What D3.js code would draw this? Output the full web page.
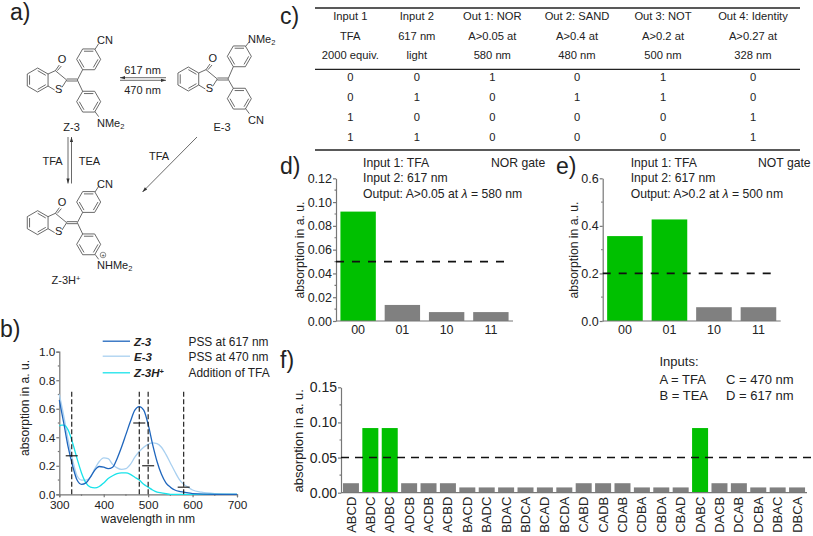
<!DOCTYPE html>
<html><head><meta charset="utf-8">
<script src="https://cdn.jsdelivr.net/npm/d3@7"></script>
<style>
html,body{margin:0;padding:0;background:#fff}
svg{display:block}
text{font-family:"Liberation Sans",Arial,sans-serif;fill:#222}
.axis path,.axis line{stroke:#777;stroke-width:1.2}
.axis text{font-family:"Liberation Sans",Arial,sans-serif;fill:#222;font-size:12.5px}
</style></head><body>
<svg id="c" width="813" height="536" xmlns="http://www.w3.org/2000/svg"></svg>
<script>
// ---------- data ----------
const wlZ = [300,310,320,330,340,350,360,370,380,390,400,410,420,430,440,450,460,470,480,490,500,510,520,530,540,550,560,570,580,600,650,700];
const absZ = [.66,.5,.33,.2,.1,.07,.08,.12,.17,.195,.19,.18,.19,.25,.33,.42,.51,.59,.615,.59,.49,.35,.23,.14,.08,.05,.03,.02,.015,.005,0,0];
const wlE = [300,310,320,330,340,350,360,370,380,390,400,410,420,430,440,450,460,470,480,490,500,510,520,530,540,550,560,570,580,590,600,620,650,700];
const absE = [.7,.55,.38,.24,.13,.1,.1,.12,.18,.23,.255,.25,.21,.185,.175,.18,.21,.26,.3,.33,.35,.36,.355,.33,.28,.22,.16,.105,.07,.05,.03,.015,.005,0];
const wlH = [300,305,310,320,330,340,350,360,370,380,390,400,410,420,430,440,450,460,470,480,490,500,510,520,530,550,700];
const absH = [.48,.485,.485,.45,.36,.25,.15,.08,.05,.045,.055,.08,.11,.13,.145,.15,.15,.14,.12,.1,.07,.05,.03,.015,.01,0,0];
const guideWl = [328,480,500,580];
const guideA = [.27,.5,.2,.05];
const gateCats = ["00","01","10","11"];
const norVals = [.092,.0135,.0075,.0075];
const norOn = [1,0,0,0];
const notVals = [.357,.427,.058,.058];
const notOn = [1,1,0,0];
const seqCats = ["ABCD","ABDC","ADBC","ADCB","ACDB","ACBD","BACD","BADC","BDAC","BDCA","BCAD","BCDA","CABD","CADB","CDAB","CDBA","CBDA","CBAD","DABC","DACB","DCAB","DCBA","DBAC","DBCA"];
const seqVals = [.0135,.092,.092,.0135,.0135,.0135,.0075,.0075,.0075,.0075,.0075,.0075,.0135,.0135,.0135,.0075,.0075,.0075,.092,.0135,.0135,.0075,.0075,.0075];
const tableRows = [
 ["Input 1","Input 2","Out 1: NOR","Out 2: SAND","Out 3: NOT","Out 4: Identity"],
 ["TFA","617 nm","A>0.05 at","A>0.4 at","A>0.2 at","A>0.27 at"],
 ["2000 equiv.","light","580 nm","480 nm","500 nm","328 nm"],
 ["0","0","1","0","1","0"],
 ["0","1","0","1","1","0"],
 ["1","0","0","0","0","1"],
 ["1","1","0","0","0","1"]];
// ---------- helpers ----------
const GREEN="#00c000",GREY="#808080";
const svg=d3.select("#c");
function txt(x,y,s,size,opt={}){
  const t=svg.append("text").attr("x",x).attr("y",y).attr("font-size",size).text(s);
  if(opt.anchor)t.attr("text-anchor",opt.anchor);
  if(opt.weight)t.attr("font-weight",opt.weight);
  if(opt.style)t.attr("font-style",opt.style);
  if(opt.rot)t.attr("transform",`rotate(${opt.rot} ${x} ${y})`);
  return t;
}
["a)|10|20","b)|0|337","c)|280|23.5","d)|280|174","e)|556|174","f)|280|367.5"].forEach(s=>{
  const [l,x,y]=s.split("|");txt(+x,+y,l,23);
});
function minor(g,scale,vals,horizontal,len){
  vals.forEach(v=>{
    const l=g.append("line").attr("stroke","#777");
    if(horizontal)l.attr("x1",scale(v)).attr("x2",scale(v)).attr("y1",0).attr("y2",len);
    else l.attr("y1",scale(v)).attr("y2",scale(v)).attr("x1",0).attr("x2",-len);
  });
}
// ---------- a) structures ----------
const mol=svg.append("g").attr("stroke","#444").attr("stroke-width",.8).attr("fill","none");
function seg(x1,y1,x2,y2,c){mol.append("line").attr("x1",x1/3).attr("y1",y1/3).attr("x2",x2/3).attr("y2",y2/3).attr("stroke",c||"#444");}
function ring(cx,cy,pointy){
  const pts=d3.range(6).map(i=>{const a=(i*60+(pointy?30:0))*Math.PI/180;return [cx+36*Math.cos(a),cy+36*Math.sin(a)];});
  pts.forEach((p,i)=>{const q=pts[(i+1)%6];seg(p[0],p[1],q[0],q[1]);
    if(i%2==0){const k=.78,m=(a)=>[cx+(a[0]-cx)*k,cy+(a[1]-cy)*k];const A=m(p),B=m(q);seg(A[0],A[1],B[0],B[1]);}
  });
}
function molecule(dx,dy,rd){
  ring(113+dx,240+dy,true);
  ring(266+dx,178+dy+rd,false);
  ring(266+dx,305+dy+rd,false);
  [[144,222,166,212],[166,212,200,240],[200,240,186,262],[164,270,144,258],[166,212,178,195],[172,212,184,198],
   [200,237,232,237],[200,243,232,243]].forEach(s=>seg(s[0]+dx,s[1]+dy,s[2]+dx,s[3]+dy));
  seg(232+dx,240+dy,248+dx,209+dy+rd);
  seg(232+dx,240+dy,248+dx,274+dy+rd);
  txt((176+dx)/3,(278+dy)/3,"S",11,{anchor:"middle"});
  txt((186+dx)/3,(190+dy)/3,"O",11,{anchor:"middle"});
}
molecule(0,0,0);molecule(452,-3,-6);molecule(0,428,0);
[[285,148,296,131],[285,335,296,350],[737,139,748,125],[737,326,748,341],[285,576,296,559],[285,763,296,778]].forEach(s=>seg(...s));
txt(97,44,"CN",11);
{const t=txt(97,127,"NMe",11);t.append("tspan").attr("font-size",7.5).attr("dy",2).text("2");}
txt(71.5,131,"Z-3",11,{anchor:"middle"});
{const t=txt(248,43,"NMe",11);t.append("tspan").attr("font-size",7.5).attr("dy",2).text("2");}
txt(248,124,"CN",11);
txt(222,131,"E-3",11,{anchor:"middle"});
txt(97,188,"CN",11);
{const t=txt(97,269,"NHMe",11);t.append("tspan").attr("font-size",7.5).attr("dy",2).text("2");}
svg.append("circle").attr("cx",103).attr("cy",255).attr("r",2.8).attr("fill","none").attr("stroke","#444").attr("stroke-width",.6);
txt(103,257,"+",5.5,{anchor:"middle"});
{const t=txt(66,284,"Z-3H",11,{anchor:"middle"});t.append("tspan").attr("font-size",7.5).attr("dy",-3).text("+");}
function arrow(x1,y1,x2,y2){
  seg(x1*3,y1*3,x2*3,y2*3);
  const a=Math.atan2(y2-y1,x2-x1),L=5,W=1.6;
  const p=[[x2,y2],[x2-L*Math.cos(a)+W*Math.sin(a),y2-L*Math.sin(a)-W*Math.cos(a)],[x2-L*Math.cos(a)-W*Math.sin(a),y2-L*Math.sin(a)+W*Math.cos(a)]];
  svg.append("polygon").attr("points",p.join(" ")).attr("fill","#333");
}
arrow(166,77.7,120,77.7);arrow(120,80.3,166,80.3);
arrow(68,137,68,183.5);arrow(71.5,183.5,71.5,137);
arrow(197,137,142.5,192);
txt(142.5,74,"617 nm",11,{anchor:"middle"});
txt(142.5,94,"470 nm",11,{anchor:"middle"});
txt(52.5,165,"TFA",11,{anchor:"middle"});
txt(89.5,165,"TEA",11,{anchor:"middle"});
txt(159,160,"TFA",11,{anchor:"middle"});
// ---------- b) spectra ----------
{
  const x=d3.scaleLinear().domain([300,700]).range([59.3,237]);
  const y=d3.scaleLinear().domain([0,1]).range([494.3,351.7]);
  const gx=svg.append("g").attr("class","axis").attr("transform","translate(0,494.3)")
    .call(d3.axisBottom(x).tickValues([300,400,500,600,700]).tickSize(3).tickPadding(3).tickFormat(d3.format("d")));
  const gy=svg.append("g").attr("class","axis").attr("transform","translate(59.3,0)")
    .call(d3.axisLeft(y).tickValues([0,.2,.4,.6,.8,1]).tickSize(3).tickPadding(1).tickFormat(d3.format(".1f")));
  gx.selectAll(".tick text").style("font-size","11.8px");
  gy.selectAll(".tick text").style("font-size","11.8px");
  minor(gx,x,[350,450,550,650],true,1.5);
  minor(gy,y,[.1,.3,.5,.7,.9],false,1.5);
  const line=d3.line().x(d=>x(d[0])).y(d=>y(d[1])).curve(d3.curveMonotoneX);
  [[wlE,absE,"#a9d0f0"],[wlH,absH,"#19e3ea"],[wlZ,absZ,"#1f66bd"]].forEach(([w,a,c])=>{
    svg.append("path").attr("d",line(w.map((v,i)=>[v,a[i]]))).attr("fill","none").attr("stroke",c).attr("stroke-width",1.3);
  });
  guideWl.forEach((w,i)=>{
    svg.append("line").attr("x1",x(w)).attr("x2",x(w)).attr("y1",y(0)).attr("y2",y(.72)).attr("stroke","#111").attr("stroke-width",1.1).attr("stroke-dasharray","5 2.5");
    svg.append("line").attr("x1",x(w)-6).attr("x2",x(w)+6).attr("y1",y(guideA[i])).attr("y2",y(guideA[i])).attr("stroke","#111").attr("stroke-width",1.1);
  });
  txt(148,523,"wavelength in nm",12.1,{anchor:"middle"});
  txt(29,408,"absorption in a. u.",12.1,{anchor:"middle",rot:-90});
  [["Z-3","#1f66bd","PSS at 617 nm",341.7],["E-3","#a9d0f0","PSS at 470 nm",356.7],["Z-3H","#19e3ea","Addition of TFA",373.3]].forEach(([n,c,d,yy],i)=>{
    svg.append("line").attr("x1",102.7).attr("x2",130).attr("y1",yy-.5).attr("y2",yy-.5).attr("stroke",c).attr("stroke-width",1.3);
    const t=txt(134,yy+4,n,11.5,{weight:"bold",style:"italic"});
    if(i==2)t.append("tspan").attr("font-size",7.5).attr("dy",-3).attr("font-style","normal").text("+");
    txt(188.5,yy+4,d,11.9);
  });
}
// ---------- c) table ----------
{
  const colX=[350.3,416.8,492.3,577,663,753],rowY=[20.3,40.4,59.4,81,100.7,120.8,140.5];
  tableRows.forEach((r,i)=>r.forEach((s,j)=>txt(colX[j],rowY[i],s,11.2,{anchor:"middle"})));
  [8,69.3,150].forEach(yy=>svg.append("line").attr("x1",315).attr("x2",800).attr("y1",yy).attr("y2",yy).attr("stroke","#222").attr("stroke-width",1.3));
}
// ---------- bar panels ----------
function barPanel(o){
  const x=d3.scaleBand().domain(o.cats).range([o.x0,o.x1]).paddingInner(o.pad).paddingOuter(o.outer);
  const y=d3.scaleLinear().domain([0,o.max]).range([o.y0,o.y1]);
  svg.append("g").selectAll("rect").data(o.vals).join("rect")
    .attr("x",(d,i)=>x(o.cats[i])).attr("width",x.bandwidth())
    .attr("y",d=>y(d)).attr("height",d=>y(0)-y(d))
    .attr("fill",(d,i)=>o.on[i]?GREEN:GREY);
  const gx=svg.append("g").attr("class","axis").attr("transform",`translate(0,${o.y0})`)
    .call(d3.axisBottom(x).tickSize(o.xTick).tickPadding(o.xPad).tickSizeOuter(0));
  const gy=svg.append("g").attr("class","axis").attr("transform",`translate(${o.axX},0)`)
    .call(d3.axisLeft(y).tickValues(o.yt).tickFormat(d3.format(o.fmt)).tickSize(3).tickPadding(1).tickSizeOuter(0));
  gx.select(".domain").attr("d",`M${o.axX},0H${o.axEnd}`);
  gy.selectAll(".tick text").style("font-size",o.tickSize+"px");
  minor(gy,y,o.ym,false,1.5);
  svg.append("line").attr("x1",o.axX).attr("x2",o.dashEnd).attr("y1",y(o.th)).attr("y2",y(o.th)).attr("stroke","#111").attr("stroke-width",o.dashW).attr("stroke-dasharray",o.dash);
  txt(o.titleX,o.titleY,"absorption in a. u.",o.titleSize,{anchor:"middle",rot:-90});
  return gx;
}
barPanel({cats:gateCats,vals:norVals,on:norOn,x0:336,x1:513,pad:.2,outer:.1,max:.12,y0:321,y1:178.3,axX:336,axEnd:513,xTick:0,xPad:4,tickSize:12.5,
  fmt:".2f",yt:[0,.02,.04,.06,.08,.1,.12],ym:[.01,.03,.05,.07,.09,.11],th:.05,dashEnd:508,dash:"8 8",dashW:1.8,titleX:304,titleY:250,titleSize:12.2});
barPanel({cats:gateCats,vals:notVals,on:notOn,x0:602.7,x1:780.7,pad:.2,outer:.1,max:.6,y0:321,y1:178.3,axX:602.7,axEnd:780.7,xTick:0,xPad:4,tickSize:12.5,
  fmt:".1f",yt:[0,.2,.4,.6],ym:[.1,.3,.5],th:.2,dashEnd:775,dash:"8 8",dashW:1.8,titleX:578,titleY:250,titleSize:12.2});
{
  const g=barPanel({cats:seqCats,vals:seqVals,on:seqVals.map(v=>v>.05),x0:341,x1:807,pad:.175,outer:.1,max:.15,y0:492.7,y1:387.3,axX:341,axEnd:807,xTick:0,xPad:5,tickSize:14,
  fmt:".2f",yt:[0,.05,.1,.15],ym:[.025,.075,.125],th:.05,dashEnd:812,dash:"8 6",dashW:1.6,titleX:302.7,titleY:440.7,titleSize:13});
  g.selectAll(".tick text").style("font-size","13px").attr("transform","rotate(-90)").attr("text-anchor","end").attr("dy","0.35em").attr("y",0).attr("x",-4);
}
function blockText(x,lines,size){lines.forEach(([s,yy])=>txt(x,yy,s,size));}
function outLine(x,yy,a,b){
  const t=txt(x,yy,a,12.2);
  t.append("tspan").attr("font-style","italic").text("λ");
  t.append("tspan").text(b);
}
blockText(363,[["Input 1: TFA",167],["Input 2: 617 nm",182]],12.2);
outLine(363,198,"Output: A>0.05 at "," = 580 nm");
txt(491,167,"NOR gate",12.2);
blockText(630.7,[["Input 1: TFA",167],["Input 2: 617 nm",182]],12.2);
outLine(630.7,198,"Output: A>0.2 at "," = 500 nm");
txt(758,167,"NOT gate",12.2);
blockText(659.5,[["Inputs:",366],["A = TFA",384],["B = TEA",400]],13);
blockText(726,[["C = 470 nm",384],["D = 617 nm",400]],13);
</script></body></html>
